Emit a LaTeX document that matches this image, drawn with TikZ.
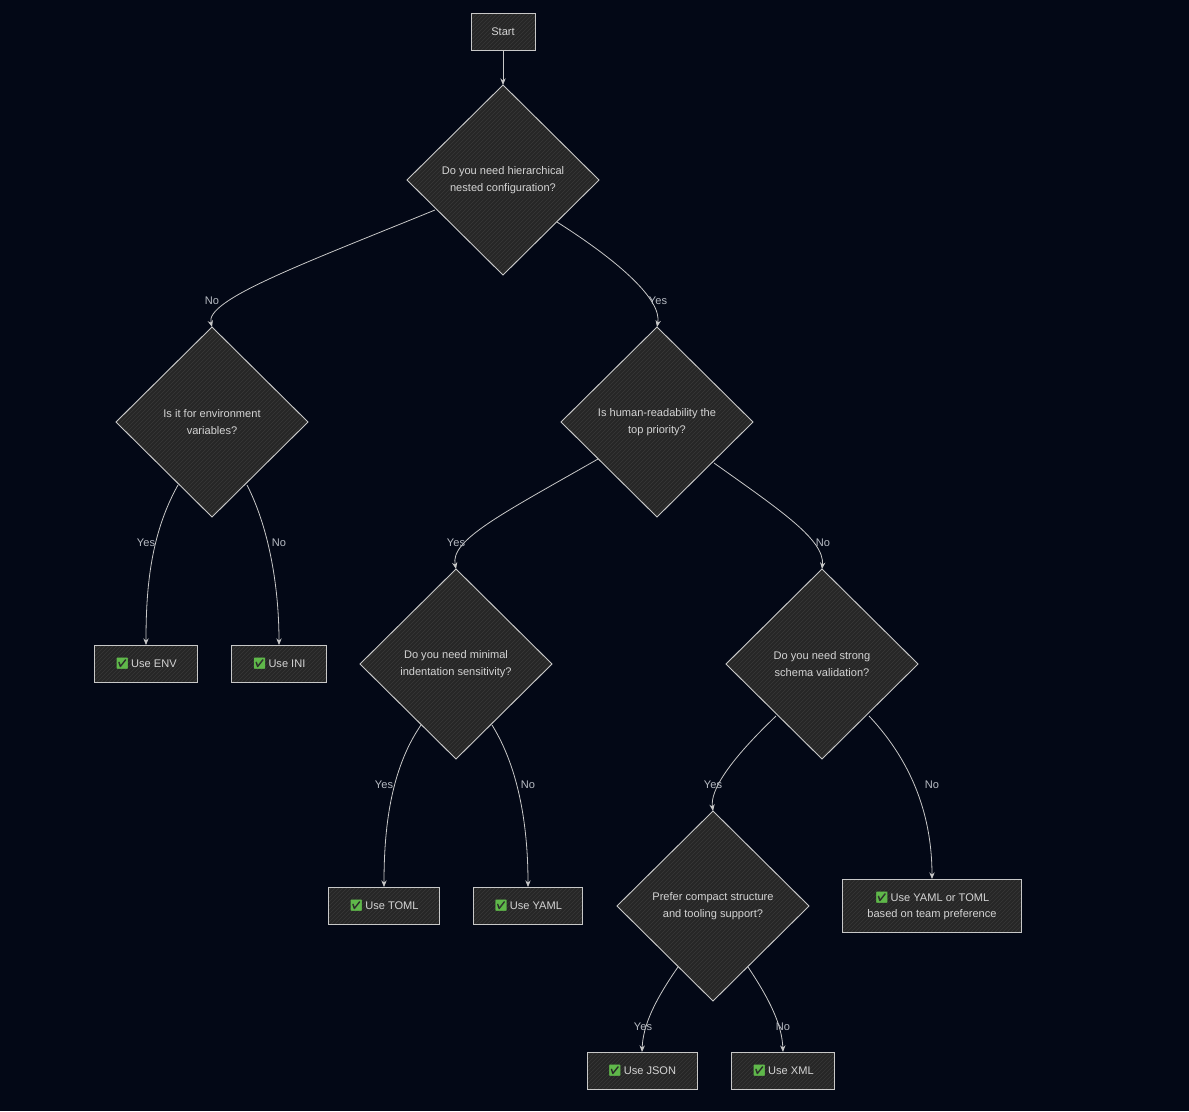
\documentclass[tikz,border=0pt]{standalone}
\usepackage{fontspec}
\setmainfont{Liberation Sans}
\newfontfamily\emo{Noto Emoji}
\usetikzlibrary{arrows.meta,patterns}
\definecolor{bg}{HTML}{030816}
\definecolor{shp}{HTML}{262626}
\definecolor{hat}{HTML}{383838}
\definecolor{strk}{HTML}{C8C8C8}
\definecolor{txt}{HTML}{D4D4D4}
\definecolor{lbl}{HTML}{B8BCC4}
\definecolor{chk}{HTML}{5FB84A}
\newcommand{\ck}{{\emo\textcolor{chk}{✅}}\,}
\tikzset{
  every node/.style={font=\fontsize{8.3pt}{12.5pt}\selectfont, text=txt},
  boxst/.style={preaction={fill=shp}, pattern=north east lines, pattern color=hat, draw=strk, line width=0.7pt, inner sep=0pt, align=center},
  diast/.style={preaction={fill=shp}, pattern=north east lines, pattern color=hat, draw=strk, line width=0.7pt},
  dtext/.style={align=center},
  edge/.style={draw=strk, line width=0.6pt, -{Stealth[length=5pt,width=4pt]}},
  lab/.style={text=lbl, inner sep=1pt}
}
\newcommand{\dia}[4]{%
  \path[diast] (#2-96,#3) -- (#2,#3-95) -- (#2+96,#3) -- (#2,#3+95) -- cycle;
  \node[dtext] (#1) at (#2,#3) {#4};}
\begin{document}
\begin{tikzpicture}[x=0.75pt,y=-0.75pt]
\fill[bg] (0,0) rectangle (1189,1111);
\useasboundingbox (0,0) rectangle (1189,1111);

\node[boxst, minimum width=64*0.75pt, minimum height=37*0.75pt] (start) at (503,32) {Start};
\dia{d1}{503}{180}{Do you need hierarchical\\nested configuration?}
\dia{d2}{212}{422}{Is it for environment\\variables?}
\dia{d3}{657}{422}{Is human-readability the\\top priority?}
\dia{d4}{456}{664}{Do you need minimal\\indentation sensitivity?}
\dia{d5}{822}{664}{Do you need strong\\schema validation?}
\dia{d6}{713}{906}{Prefer compact structure\\and tooling support?}

\node[boxst, minimum width=103*0.75pt, minimum height=37*0.75pt] (env) at (146,664) {\ck Use ENV};
\node[boxst, minimum width=95*0.75pt, minimum height=37*0.75pt] (ini) at (279,664) {\ck Use INI};
\node[boxst, minimum width=111*0.75pt, minimum height=37*0.75pt] (toml) at (384,906) {\ck Use TOML};
\node[boxst, minimum width=109*0.75pt, minimum height=37*0.75pt] (yaml) at (528,906) {\ck Use YAML};
\node[boxst, minimum width=179*0.75pt, minimum height=53*0.75pt] (yt) at (932,906) {\ck Use YAML or TOML\\based on team preference};
\node[boxst, minimum width=110*0.75pt, minimum height=37*0.75pt] (json) at (642,1071) {\ck Use JSON};
\node[boxst, minimum width=103*0.75pt, minimum height=37*0.75pt] (xml) at (783,1071) {\ck Use XML};

\coordinate (d2t) at (212,327);
\coordinate (d3t) at (657,327);
\coordinate (d4t) at (456,569);
\coordinate (d5t) at (822,569);
\coordinate (d6t) at (713,811);
\coordinate (d1t) at (503,85);

\draw[edge] (start.south) -- (d1t);
\draw[edge] (435,210) .. controls (300,265) and (205,300) .. (d2t);
\draw[edge] (557,222) .. controls (620,262) and (662,300) .. (d3t);
\draw[edge] (178,485) .. controls (150,535) and (146,590) .. (env.north);
\draw[edge] (247,485) .. controls (270,530) and (279,590) .. (ini.north);
\draw[edge] (598,459) .. controls (500,515) and (450,540) .. (d4t);
\draw[edge] (714,463) .. controls (780,510) and (825,540) .. (d5t);
\draw[edge] (421,725) .. controls (390,770) and (384,830) .. (toml.north);
\draw[edge] (492,725) .. controls (520,770) and (528,830) .. (yaml.north);
\draw[edge] (776,716) .. controls (730,760) and (710,790) .. (d6t);
\draw[edge] (869,716) .. controls (915,765) and (932,820) .. (yt.north);
\draw[edge] (678,967) .. controls (655,1000) and (643,1025) .. (json.north);
\draw[edge] (748,967) .. controls (770,1000) and (782,1025) .. (xml.north);

\node[lab] (l1) at (212,301) {No};
\node[lab] (l2) at (658,301) {Yes};
\node[lab] (l3) at (146,543) {Yes};
\node[lab] (l4) at (279,543) {No};
\node[lab] (l5) at (456,543) {Yes};
\node[lab] (l6) at (823,543) {No};
\node[lab] (l7) at (384,785) {Yes};
\node[lab] (l8) at (528,785) {No};
\node[lab] (l9) at (713,785) {Yes};
\node[lab] (l10) at (932,785) {No};
\node[lab] (l11) at (643,1027) {Yes};
\node[lab] (l12) at (783,1027) {No};
\end{tikzpicture}
\end{document}
